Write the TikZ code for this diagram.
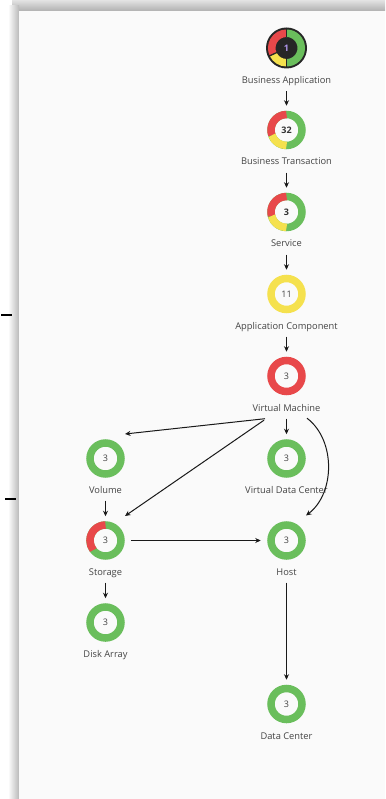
\documentclass[tikz,border=0pt]{standalone}
\usepackage{fontspec}
\setmainfont{Open Sans}
\usetikzlibrary{arrows.meta,calc}
\definecolor{rgreen}{RGB}{106,190,92}
\definecolor{rred}{RGB}{232,72,74}
\definecolor{ryellow}{RGB}{245,225,78}
\definecolor{panel}{RGB}{250,250,250}
\definecolor{txt}{RGB}{68,68,68}
\definecolor{edge}{RGB}{25,25,25}
\definecolor{numviolet}{RGB}{175,150,235}
\tikzset{
  ring/.style={circle, draw=#1, line width=7.5pt, minimum size=31pt, inner sep=0pt,
    font=\fontsize{9}{10}\selectfont, text=txt},
  lbl/.style={font=\fontsize{9.3}{10}\selectfont, text=txt, inner sep=0pt,
    text height=6.5pt, text depth=1.5pt},
  arr/.style={draw=edge, line width=1pt, -{Stealth[length=5.5pt,width=5pt]}},
  vdown/.style={arr, shorten <=6pt, shorten >=5pt},
}
\newcommand\ringseg[4]{\draw[#4, line width=7.5pt] (#1.center) ++(#2:15.5pt) arc[start angle=#2, end angle=#3, radius=15.5pt];}
\newcommand\baseg[4]{\draw[#4, line width=7.5pt] (#1.center) ++(#2:14.75pt) arc[start angle=#2, end angle=#3, radius=14.75pt];}
\begin{document}
\begin{tikzpicture}[x=1pt,y=1pt]
\useasboundingbox (0,0) rectangle (385,-799);
% background, shadow and panel
\fill[white] (0,0) rectangle (385,-799);
\shade[top color=gray!22, bottom color=gray!62] (12,0) rectangle (385,-11);
\shade[left color=white, right color=gray!55] (8,-6) rectangle (19,-799);
\fill[panel] (19,-11) rectangle (385,-799);
\draw[black, line width=2.2pt] (1,-315) -- (12,-315);
\draw[black, line width=2.2pt] (5,-499) -- (16,-499);

% Business Application
\node[circle, fill=black!85, minimum size=41pt, inner sep=0pt] (ba) at (286.5,-48) {};
\baseg{ba}{90}{205}{rred}
\baseg{ba}{205}{270}{ryellow}
\baseg{ba}{-90}{90}{rgreen}
\foreach \a in {90,205,270}{\draw[black!85, line width=1.3pt] (ba.center) ++(\a:10.5pt) -- ++(\a:8.5pt);}
\node[font=\fontsize{9}{10}\selectfont\bfseries, text=numviolet] at (ba.center) {1};
\node[lbl] (baL) at (286.5,-81) {Business Application};

% Business Transaction
\node[ring=rgreen] (bt) at (286.5,-130) {};
\ringseg{bt}{90}{200}{rred}
\ringseg{bt}{200}{270}{ryellow}
\node[font=\fontsize{9}{10}\selectfont\bfseries, text=black!80] at (bt.center) {32};
\node[lbl] (btL) at (286.5,-162.5) {Business Transaction};

% Service
\node[ring=rgreen] (sv) at (286.5,-212) {};
\ringseg{sv}{90}{195}{rred}
\ringseg{sv}{195}{270}{ryellow}
\node[font=\fontsize{9}{10}\selectfont\bfseries, text=black!80] at (sv.center) {3};
\node[lbl] (svL) at (286.5,-244.5) {Service};

% Application Component
\node[ring=ryellow] (ac) at (286.5,-294) {11};
\node[lbl] (acL) at (286.5,-326.5) {Application Component};

% Virtual Machine
\node[ring=rred] (vm) at (286.5,-376) {3};
\node[lbl] (vmL) at (286.5,-408.5) {Virtual Machine};

% Volume
\node[ring=rgreen] (vol) at (105.5,-458.5) {3};
\node[lbl] (volL) at (105.5,-490.5) {Volume};

% Virtual Data Center
\node[ring=rgreen] (vdc) at (286.5,-458.5) {3};
\node[lbl] (vdcL) at (286.5,-490.5) {Virtual Data Center};

% Storage
\node[ring=rgreen] (st) at (105.5,-540.5) {};
\ringseg{st}{90}{218}{rred}
\node[font=\fontsize{9}{10}\selectfont, text=txt] at (st.center) {3};
\node[lbl] (stL) at (105.5,-572.5) {Storage};

% Host
\node[ring=rgreen] (host) at (286.5,-540.5) {3};
\node[lbl] (hostL) at (286.5,-572.5) {Host};

% Disk Array
\node[ring=rgreen] (da) at (105.5,-622.5) {3};
\node[lbl] (daL) at (105.5,-654.5) {Disk Array};

% Data Center
\node[ring=rgreen] (dc) at (286.5,-704) {3};
\node[lbl] (dcL) at (286.5,-736.5) {Data Center};

% connectors
\draw[vdown] (baL.south) -- (bt.north);
\draw[vdown] (btL.south) -- (sv.north);
\draw[vdown] (svL.south) -- (ac.north);
\draw[vdown] (acL.south) -- (vm.north);
\draw[vdown] (vmL.south) -- (vdc.north);
\draw[vdown] (volL.south) -- (st.north);
\draw[vdown] (stL.south) -- (da.north);
\draw[vdown] (hostL.south) -- (dc.north);

\coordinate (vmA) at ($(vmL.south)+(-21.5,-6)$);
\coordinate (vmB) at ($(vmL.south)+(20.5,-5.5)$);
\coordinate (volIn) at ($(vol.center)+(19.5,24.5)$);
\coordinate (stIn) at ($(st.center)+(19.5,24.5)$);
\coordinate (hostIn) at ($(host.center)+(19.5,25)$);
\draw[arr] (vmA) -- (volIn);
\draw[arr] ($(vmA)+(-1,-1.5)$) -- (stIn);
\draw[arr] (vmB) .. controls ($(vmB)+(29,-22)$) and ($(hostIn)+(29,22)$) .. (hostIn);
\draw[arr, shorten <=6pt, shorten >=6.5pt] (st.east) -- (host.west);
\end{tikzpicture}
\end{document}
